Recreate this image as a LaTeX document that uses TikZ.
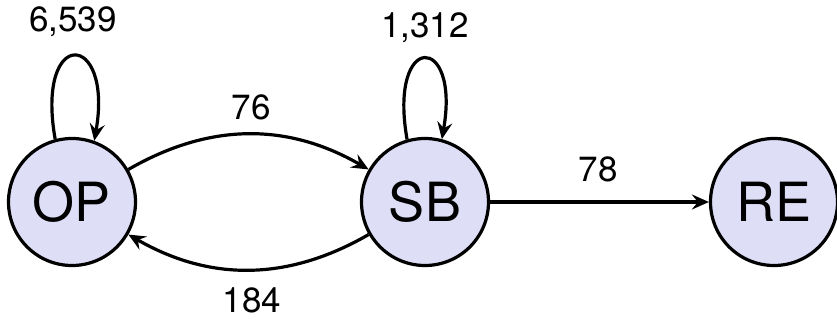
\documentclass[tikz,border=0pt]{standalone}
\usepackage{fontspec}
\setmainfont{TeX Gyre Heros}
\usetikzlibrary{arrows.meta}
\definecolor{statefill}{RGB}{222,222,247}
\begin{document}
\begin{tikzpicture}[x=1pt,y=1pt,
  state/.style={circle,draw=black,line width=3.2pt,fill=statefill,minimum size=127pt,inner sep=0pt,font=\fontsize{54}{54}\selectfont},
  arr/.style={line width=3.2pt,-{Stealth[length=17pt,width=15pt,inset=6pt]}},
  lab/.style={font=\fontsize{35}{35}\selectfont,inner sep=0pt}]
\useasboundingbox (0,0) rectangle (837,322);
\node[state] (OP) at (72,120) {OP};
\node[state] (SB) at (425,120) {SB};
\node[state] (RE) at (774,120) {RE};
\draw[arr] (OP.105) .. controls +(100:115) and +(80:112) .. (OP.70);
\draw[arr] (SB.106) .. controls +(100:110) and +(80:108) .. (SB.75);
\draw[arr] (OP.30) to[out=30,in=150] (SB.150);
\draw[arr] (SB.210) to[out=210,in=330] (OP.330);
\draw[arr] (SB.east) -- (RE.west);
\node[lab] (l1) at (73,300) {6,539};
\node[lab] (l2) at (425,294) {1,312};
\node[lab] (l3) at (251,215) {76};
\node[lab] (l4) at (252,22) {184};
\node[lab] (l5) at (598,153) {78};
\end{tikzpicture}
\end{document}
